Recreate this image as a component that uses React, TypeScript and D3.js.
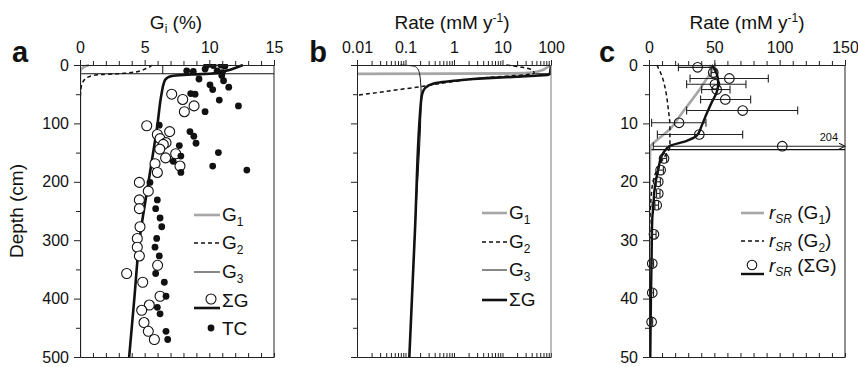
import { useEffect, useRef } from "react";
import * as d3 from "d3";

const W = 858;
const H = 367;
const FONT = "'Liberation Sans', Arial, Helvetica, sans-serif";

// ---------- panel a : G_i (%) vs depth (cm) ----------
const aG1 = [[0.7, 0], [0.45, 2], [0.2, 5], [0.06, 9], [0.01, 14], [0, 20], [0, 500]];
const aG2 = [[5.6, 0], [5.4, 3], [5.1, 6], [4.8, 9], [4.3, 12], [3.5, 14], [2.6, 15.5], [1.6, 16.5], [1.0, 18], [0.7, 20], [0.35, 25], [0.2, 30], [0.08, 40], [0.02, 60], [0, 100], [0, 500]];
const aG3 = [[6.4, 0], [6.4, 15]];
const aSumG = [[12.6, 0], [12.0, 5], [11.3, 10], [10.8, 13], [10.0, 15], [9.0, 16], [8.0, 17], [7.4, 18], [6.9, 20], [6.6, 25], [6.5, 30], [6.3, 50], [6.0, 100], [5.3, 200], [4.6, 300], [4.2, 400], [3.8, 500]];
const aOpen = [
  [7.09, 50], [7.94, 59], [8.82, 70], [8.07, 80], [5.16, 104], [6.93, 114], [5.98, 119], [6.19, 126],
  [6.65, 133], [6.44, 136], [6.17, 144], [7.4, 152], [6.62, 159], [5.8, 169], [7.73, 173], [5.98, 184],
  [4.59, 201], [5.28, 216], [4.59, 231], [4.59, 246], [4.64, 277], [4.43, 297], [4.43, 312], [4.59, 327],
  [6.0, 343], [3.61, 357], [4.85, 372], [6.19, 396], [5.36, 411], [4.77, 420], [4.95, 441], [5.28, 456], [5.75, 470],
];
const aTC = [
  [10.9, 0], [9.8, 1], [10.3, 1], [11.2, 2], [9.67, 7], [8.25, 10], [8.76, 11], [10.6, 10], [11.0, 13],
  [10.96, 18], [11.1, 27], [9.2, 24], [10.05, 34], [10.26, 42], [11.5, 38], [8.56, 49], [8.9, 50], [10.77, 60],
  [12.25, 70], [9.67, 80], [6.13, 103], [8.5, 114], [8.8, 122], [8.97, 134], [7.68, 138], [10.7, 150],
  [7.8, 156], [7.2, 165], [10.26, 173], [12.9, 180], [7.8, 184], [5.41, 201], [5.98, 231], [5.85, 246],
  [6.19, 262], [6.32, 277], [5.93, 297], [5.8, 312], [6.13, 327], [5.85, 357], [6.52, 372], [6.65, 396],
  [5.98, 415], [6.19, 426], [6.65, 456], [6.78, 470],
];
const aTicks = [0, 5, 10, 15];
const depthTicks = [0, 100, 200, 300, 400, 500];

// ---------- panel b : rate (mM/y, log) vs depth (cm) ----------
const bG1 = [[95, 0], [80, 5], [60, 10], [40, 13], [15, 14.3], [1, 14.8], [0.005, 15.2]];
const bG2 = [[12, 0], [26, 4], [43, 10], [45, 14], [35, 16], [20, 18], [8, 20], [2, 25], [0.7, 30], [0.25, 36], [0.05, 44], [0.008, 53]];
const bG3 = [[0.078, 0], [0.12, 1], [0.16, 3], [0.18, 7], [0.195, 15], [0.205, 30], [0.21, 50], [0.157, 282], [0.12, 500]];
const bSumG = [[100, 0], [97, 10], [95, 15], [88, 16.5], [55, 18], [20, 20], [6, 22], [2.5, 24], [1.0, 27], [0.5, 30], [0.3, 35], [0.23, 45], [0.21, 60], [0.157, 282], [0.12, 500]];
const bTicks = [0.01, 0.1, 1, 10, 100];

// ---------- panel c : sulfate reduction rate (mM/y) vs depth (cm) ----------
const cG1 = [[46, 0], [48, 1], [44, 2.4], [39, 4.1], [31.4, 6.4], [23.7, 8.7], [16, 11], [8.4, 12.4], [3.3, 13.4], [1, 14], [0.5, 20], [0, 30], [0, 50]];
const cG2 = [[6, 0], [9.7, 1.8], [13, 4.7], [14.8, 7.6], [16, 10.4], [16, 14], [14, 15], [11, 16], [6, 18], [3, 20], [1, 25], [0.3, 30], [0, 50]];
const cSumG = [[48, 0], [51.8, 1.5], [53, 3], [51.8, 4.7], [48, 6.4], [44, 8.4], [40.3, 10.4], [36.5, 12.1], [28.8, 13], [16, 13.85], [13.5, 14.3], [9.7, 15.6], [7.1, 17.9], [4.6, 20.7], [3.3, 24.2], [2.5, 26.4], [2.0, 33], [1.5, 40], [1.0, 50]];
// [rate, depth, low, high]
const cPoints = [
  [37.2, 0.4, 22.5, 50.5], [49.2, 1.3, 47.6, 51.8], [61.5, 2.3, 31.4, 91.3], [50.5, 3.3, 28.8, 74.2],
  [51.8, 4.2, 40.3, 62], [58.4, 5.9, 39.5, 77.8], [71.7, 7.8, 28.8, 113.8], [23, 9.9, 2, 43.6],
  [38.5, 11.9, 6.4, 71.7], [102, 13.9, 3.3, 204], [11.5, 16, 9.5, 13.5], [8.9, 18, 7, 11],
  [7.1, 20, 5.5, 8.7], [7.1, 22, 5.8, 8.4], [5.9, 24, 4.5, 7.3], [3.8, 29, 2.2, 5.4],
  [2.5, 34, 1.5, 3.5], [2.5, 39, 1.5, 3.5], [2.0, 44, 1.2, 2.8],
];
const cTicks = [0, 50, 100, 150];
const cDepthTicks = [0, 10, 20, 30, 40, 50];

const TOP = 65;
const BOTTOM = 357;
const GRAY = "#a6a6a6";
const TICK_FS = 16;
const TITLE_FS = 19;
const LEG_FS = 19;
const SUB_FS = 12;

function styleAxis(g) {
  g.attr("font-family", FONT).attr("font-size", TICK_FS);
  g.selectAll("text").attr("fill", "#111");
  g.selectAll("line").attr("stroke", "#222");
  g.select(".domain").attr("stroke", "#222");
}

function frame(svg, x, y, opts) {
  const [x0, x1] = x.range();
  const g = svg.append("g");
  // top axis: majors with labels + minors
  const top = g.append("g").attr("transform", `translate(0,${TOP})`)
    .call(d3.axisTop(x).tickValues(opts.xMajor).tickSize(5).tickPadding(7).tickFormat(opts.xFmt).tickSizeOuter(0));
  styleAxis(top);
  const topMinor = g.append("g").attr("transform", `translate(0,${TOP})`)
    .call(d3.axisTop(x).tickValues(opts.xMinor).tickSize(4).tickFormat(() => "").tickSizeOuter(0));
  styleAxis(topMinor);
  // bottom axis with inward ticks, no labels
  const bot = g.append("g").attr("transform", `translate(0,${BOTTOM})`)
    .call(d3.axisBottom(x).tickValues(opts.xMinor.concat(opts.xMajor)).tickSize(-4).tickFormat(() => "").tickSizeOuter(0));
  styleAxis(bot);
  // left axis
  const left = g.append("g").attr("transform", `translate(${x0},0)`)
    .call(d3.axisLeft(y).tickValues(opts.yMajor).tickSize(6).tickPadding(5)
      .tickFormat(opts.yLabels ? d3.format("d") : () => "").tickSizeOuter(0));
  styleAxis(left);
  const leftMinor = g.append("g").attr("transform", `translate(${x0},0)`)
    .call(d3.axisLeft(y).tickValues(opts.yMinor).tickSize(4).tickFormat(() => "").tickSizeOuter(0));
  styleAxis(leftMinor);
  // right border
  g.append("line").attr("x1", x1).attr("x2", x1).attr("y1", TOP).attr("y2", BOTTOM)
    .attr("stroke", opts.rightColor || "#222").attr("stroke-width", 1);
  return g;
}

function sub(t, main, s, dy = 5) {
  t.append("tspan").text(main);
  t.append("tspan").attr("font-size", SUB_FS).attr("dy", dy).text(s);
}

function legendLabel(g, x, y, main, s) {
  const t = g.append("text").attr("x", x).attr("y", y + 6).attr("font-family", FONT).attr("font-size", LEG_FS).attr("fill", "#111");
  sub(t, main, s);
  return t;
}

function rateTitle(g, cx) {
  const t = g.append("text").attr("x", cx).attr("y", 29).attr("text-anchor", "middle")
    .attr("font-family", FONT).attr("font-size", TITLE_FS).attr("fill", "#111");
  t.append("tspan").text("Rate (mM y");
  t.append("tspan").attr("font-size", SUB_FS).attr("dy", -7).text("-1");
  t.append("tspan").attr("dy", 7).text(")");
}

function panelLetter(g, x, s) {
  g.append("text").attr("x", x).attr("y", 62).attr("text-anchor", "middle").attr("font-family", FONT)
    .attr("font-size", 29).attr("font-weight", "bold").attr("fill", "#111").text(s);
}

function App() {
  const ref = useRef(null);

  useEffect(() => {
    const svg = d3.select(ref.current);
    svg.selectAll("*").remove();

    const yA = d3.scaleLinear().domain([0, 500]).range([TOP, BOTTOM]);
    const yC = d3.scaleLinear().domain([0, 50]).range([TOP, BOTTOM]);
    const xA = d3.scaleLinear().domain([0, 15]).range([80, 274]);
    const xB = d3.scaleLog().domain([0.01, 100]).range([357, 551]);
    const xC = d3.scaleLinear().domain([0, 150]).range([649, 845]);

    const defs = svg.append("defs");
    [["clipA", xA], ["clipB", xB], ["clipC", xC]].forEach(([id, sc]) => {
      const r = sc.range();
      defs.append("clipPath").attr("id", id).append("rect")
        .attr("x", r[0]).attr("y", TOP - 1).attr("width", r[1] - r[0]).attr("height", BOTTOM - TOP + 2);
    });

    // ---------------- panel a ----------------
    {
      const x = xA, y = yA;
      const g = svg.append("g");
      const p = g.append("g").attr("clip-path", "url(#clipA)");
      p.append("line").attr("x1", x.range()[0]).attr("x2", x.range()[1]).attr("y1", y(15)).attr("y2", y(15)).attr("stroke", "#111").attr("stroke-width", 1.2);
      const ln = d3.line().x(d => x(d[0])).y(d => y(d[1])).curve(d3.curveMonotoneY);
      p.append("path").attr("d", ln(aG1)).attr("fill", "none").attr("stroke", GRAY).attr("stroke-width", 2.6);
      p.append("path").attr("d", ln(aG2)).attr("fill", "none").attr("stroke", "#111").attr("stroke-width", 1.5).attr("stroke-dasharray", "4,3");
      p.append("path").attr("d", ln(aG3)).attr("fill", "none").attr("stroke", "#111").attr("stroke-width", 1);
      p.append("path").attr("d", ln(aSumG)).attr("fill", "none").attr("stroke", "#111").attr("stroke-width", 2.6);
      p.selectAll("circle.open").data(aOpen).enter().append("circle")
        .attr("cx", d => x(d[0])).attr("cy", d => y(d[1])).attr("r", 5)
        .attr("fill", "white").attr("stroke", "#111").attr("stroke-width", 1.1);
      p.selectAll("circle.tc").data(aTC).enter().append("circle")
        .attr("cx", d => x(d[0])).attr("cy", d => y(d[1])).attr("r", 3.4).attr("fill", "#111");

      frame(g, x, y, {
        xMajor: aTicks, xMinor: d3.range(0, 16).filter(v => v % 5 !== 0), xFmt: d3.format("d"),
        yMajor: depthTicks, yMinor: [50, 150, 250, 350, 450], yLabels: true,
      });

      const t = g.append("text").attr("x", 176).attr("y", 29).attr("text-anchor", "middle")
        .attr("font-family", FONT).attr("font-size", TITLE_FS).attr("fill", "#111");
      sub(t, "G", "i", 4);
      t.append("tspan").attr("dy", -4).text(" (%)");

      panelLetter(g, 20, "a");

      // legend
      const lx0 = 194, lx1 = 220, tx = 222;
      const lg = g.append("g");
      lg.append("line").attr("x1", lx0).attr("x2", lx1).attr("y1", 215).attr("y2", 215).attr("stroke", GRAY).attr("stroke-width", 2.6);
      legendLabel(lg, tx, 215, "G", "1");
      lg.append("line").attr("x1", lx0).attr("x2", lx1).attr("y1", 243).attr("y2", 243).attr("stroke", "#111").attr("stroke-width", 1.5).attr("stroke-dasharray", "4,3");
      legendLabel(lg, tx, 243, "G", "2");
      lg.append("line").attr("x1", lx0).attr("x2", lx1).attr("y1", 272).attr("y2", 272).attr("stroke", "#111").attr("stroke-width", 1);
      legendLabel(lg, tx, 272, "G", "3");
      lg.append("line").attr("x1", lx0).attr("x2", lx1).attr("y1", 308).attr("y2", 308).attr("stroke", "#111").attr("stroke-width", 2.6);
      lg.append("circle").attr("cx", 211).attr("cy", 299).attr("r", 5).attr("fill", "white").attr("stroke", "#111").attr("stroke-width", 1.1);
      lg.append("text").attr("x", tx).attr("y", 307).attr("font-family", FONT).attr("font-size", LEG_FS).attr("fill", "#111").text("ΣG");
      lg.append("circle").attr("cx", 211).attr("cy", 328).attr("r", 3.4).attr("fill", "#111");
      lg.append("text").attr("x", tx).attr("y", 335).attr("font-family", FONT).attr("font-size", LEG_FS).attr("fill", "#111").text("TC");

      g.append("text").attr("transform", `translate(23,${(TOP + BOTTOM) / 2 + 0}) rotate(-90)`).attr("text-anchor", "middle")
        .attr("font-family", FONT).attr("font-size", TITLE_FS).attr("fill", "#111").text("Depth (cm)");
    }

    // ---------------- panel b ----------------
    {
      const x = xB, y = yA;
      const g = svg.append("g");
      const p = g.append("g").attr("clip-path", "url(#clipB)");
      const ln = d3.line().x(d => x(Math.max(d[0], 0.001))).y(d => y(d[1])).curve(d3.curveMonotoneY);
      p.append("line").attr("x1", x.range()[0]).attr("x2", x.range()[1]).attr("y1", y(15)).attr("y2", y(15)).attr("stroke", "#111").attr("stroke-width", 1.2);
      p.append("path").attr("d", ln(bG1)).attr("fill", "none").attr("stroke", GRAY).attr("stroke-width", 2.6);
      p.append("path").attr("d", ln(bG2)).attr("fill", "none").attr("stroke", "#111").attr("stroke-width", 1.5).attr("stroke-dasharray", "4,3");
      p.append("path").attr("d", ln(bG3)).attr("fill", "none").attr("stroke", "#111").attr("stroke-width", 1);
      p.append("path").attr("d", ln(bSumG)).attr("fill", "none").attr("stroke", "#111").attr("stroke-width", 2.6);

      const minor = [];
      [0.01, 0.1, 1, 10].forEach(dec => { for (let k = 2; k <= 9; k++) minor.push(dec * k); });
      frame(g, x, y, {
        xMajor: bTicks, xMinor: minor, xFmt: d => String(d),
        yMajor: depthTicks, yMinor: [50, 150, 250, 350, 450], yLabels: false, rightColor: "#777",
      });

      rateTitle(g, 452);
      panelLetter(g, 318, "b");

      const lx0 = 482, lx1 = 507, tx = 509;
      const lg = g.append("g");
      lg.append("line").attr("x1", lx0).attr("x2", lx1).attr("y1", 213).attr("y2", 213).attr("stroke", GRAY).attr("stroke-width", 2.6);
      legendLabel(lg, tx, 213, "G", "1");
      lg.append("line").attr("x1", lx0).attr("x2", lx1).attr("y1", 242).attr("y2", 242).attr("stroke", "#111").attr("stroke-width", 1.5).attr("stroke-dasharray", "4,3");
      legendLabel(lg, tx, 242, "G", "2");
      lg.append("line").attr("x1", lx0).attr("x2", lx1).attr("y1", 270).attr("y2", 270).attr("stroke", "#111").attr("stroke-width", 1);
      legendLabel(lg, tx, 270, "G", "3");
      lg.append("line").attr("x1", lx0).attr("x2", lx1).attr("y1", 300).attr("y2", 300).attr("stroke", "#111").attr("stroke-width", 2.6);
      lg.append("text").attr("x", tx).attr("y", 306).attr("font-family", FONT).attr("font-size", LEG_FS).attr("fill", "#111").text("ΣG");
    }

    // ---------------- panel c ----------------
    {
      const x = xC, y = yC;
      const g = svg.append("g");
      const p = g.append("g").attr("clip-path", "url(#clipC)");
      const ln = d3.line().x(d => x(d[0])).y(d => y(d[1])).curve(d3.curveMonotoneY);
      p.append("line").attr("x1", x.range()[0]).attr("x2", x.range()[1]).attr("y1", y(14.5)).attr("y2", y(14.5)).attr("stroke", "#111").attr("stroke-width", 1.2);
      p.append("path").attr("d", ln(cG1)).attr("fill", "none").attr("stroke", GRAY).attr("stroke-width", 2.6);
      p.append("path").attr("d", ln(cG2)).attr("fill", "none").attr("stroke", "#111").attr("stroke-width", 1.5).attr("stroke-dasharray", "4,3");
      p.append("path").attr("d", ln(cSumG)).attr("fill", "none").attr("stroke", "#111").attr("stroke-width", 2.4);

      const xmax = x.domain()[1];
      const eb = g.append("g");
      cPoints.forEach(d => {
        const yy = y(d[1]);
        const xl = x(Math.max(0, d[2]));
        const xr = x(Math.min(xmax, d[3]));
        eb.append("line").attr("x1", xl).attr("x2", xr).attr("y1", yy).attr("y2", yy).attr("stroke", "#222").attr("stroke-width", 1.1);
        eb.append("line").attr("x1", xl).attr("x2", xl).attr("y1", yy - 4).attr("y2", yy + 4).attr("stroke", "#222").attr("stroke-width", 1.1);
        if (d[3] <= xmax) {
          eb.append("line").attr("x1", xr).attr("x2", xr).attr("y1", yy - 4).attr("y2", yy + 4).attr("stroke", "#222").attr("stroke-width", 1.1);
        } else {
          eb.append("path").attr("d", `M${xr - 6},${yy - 3}L${xr},${yy}L${xr - 6},${yy + 3}`).attr("fill", "none").attr("stroke", "#222").attr("stroke-width", 1.1);
          eb.append("text").attr("x", xr - 7).attr("y", yy - 5).attr("text-anchor", "end").attr("font-family", FONT)
            .attr("font-size", 11).attr("fill", "#111").text(String(d[3]));
        }
      });
      g.selectAll("circle.pt").data(cPoints).enter().append("circle")
        .attr("cx", d => x(d[0])).attr("cy", d => y(d[1])).attr("r", 4.8)
        .attr("fill", "none").attr("stroke", "#111").attr("stroke-width", 1.1);

      frame(g, x, y, {
        xMajor: cTicks, xMinor: d3.range(10, 150, 10).filter(v => v % 50 !== 0), xFmt: d3.format("d"),
        yMajor: cDepthTicks, yMinor: [5, 15, 25, 35, 45], yLabels: true,
      });

      rateTitle(g, 747);
      panelLetter(g, 607, "c");

      const lx0 = 741, lx1 = 764, tx = 769;
      const lg = g.append("g");
      const rsr = (yy, s) => {
        const tt = lg.append("text").attr("x", tx).attr("y", yy + 6).attr("font-family", FONT).attr("font-size", LEG_FS).attr("fill", "#111");
        tt.append("tspan").attr("font-style", "italic").text("r");
        tt.append("tspan").attr("font-style", "italic").attr("font-size", SUB_FS).attr("dy", 4).text("SR");
        tt.append("tspan").attr("dy", -4).text(" (");
        if (s === "sum") {
          tt.append("tspan").text("ΣG)");
        } else {
          tt.append("tspan").text("G");
          tt.append("tspan").attr("font-size", SUB_FS).attr("dy", 5).text(s);
          tt.append("tspan").attr("dy", -5).text(")");
        }
      };
      lg.append("line").attr("x1", lx0).attr("x2", lx1).attr("y1", 213).attr("y2", 213).attr("stroke", GRAY).attr("stroke-width", 2.6);
      rsr(213, "1");
      lg.append("line").attr("x1", lx0).attr("x2", lx1).attr("y1", 241).attr("y2", 241).attr("stroke", "#111").attr("stroke-width", 1.5).attr("stroke-dasharray", "4,3");
      rsr(241, "2");
      lg.append("line").attr("x1", lx0).attr("x2", lx1).attr("y1", 274).attr("y2", 274).attr("stroke", "#111").attr("stroke-width", 2.4);
      lg.append("circle").attr("cx", 752).attr("cy", 265).attr("r", 4.8).attr("fill", "white").attr("stroke", "#111").attr("stroke-width", 1.1);
      rsr(266, "sum");
    }
  }, []);

  return (
    <svg ref={ref} width={W} height={H} viewBox={`0 0 ${W} ${H}`}
      style={{ position: "absolute", left: 0, top: 0, background: "white" }} />
  );
}

export default App;
